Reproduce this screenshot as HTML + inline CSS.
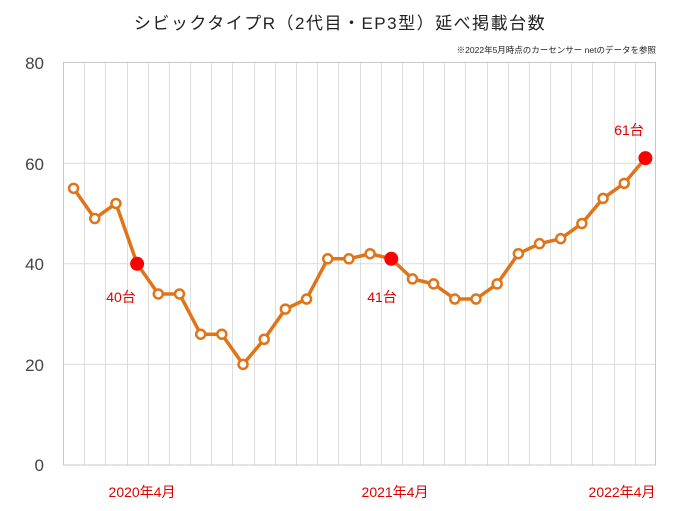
<!DOCTYPE html>
<html><head><meta charset="utf-8"><style>
html,body{margin:0;padding:0;background:#fff;}
svg{display:block;font-family:"Liberation Sans","Noto Sans CJK JP",sans-serif;}
</style></head><body>
<svg width="680" height="511" viewBox="0 0 680 511" xmlns="http://www.w3.org/2000/svg">
<rect width="680" height="511" fill="#fff"/>
<text x="340" y="29" text-anchor="middle" font-size="17" fill="#222" letter-spacing="1.5">シビックタイプR（2代目・EP3型）延べ掲載台数</text>
<text x="656" y="53" text-anchor="end" font-size="8.5" fill="#222">※2022年5月時点のカーセンサー netのデータを参照</text>
<g id="grid" stroke="#dcdcdc" stroke-width="1"></g>
<rect x="63.5" y="62.5" width="592" height="402.5" fill="none" stroke="#c8c8c8"/>
<g font-size="17" fill="#444" text-anchor="end">
<text x="44" y="69">80</text><text x="44" y="170">60</text><text x="44" y="270">40</text><text x="44" y="371">20</text><text x="44" y="471">0</text>
</g>
<g font-size="14" fill="#d00" text-anchor="middle">
<text x="142" y="497">2020年4月</text><text x="395" y="497">2021年4月</text><text x="622" y="497">2022年4月</text>
<text x="121" y="302">40台</text><text x="382" y="302">41台</text><text x="629" y="135">61台</text>
</g>
<polyline id="ln" fill="none" stroke="#e07418" stroke-width="3.5" stroke-linejoin="round"/>
<g id="pts"></g>
<script>
var d=[55,49,52,40,34,34,26,26,20,25,31,33,41,41,42,41,37,36,33,33,36,42,44,45,48,53,56,61];
var x0=63,w=593/28,ns="http://www.w3.org/2000/svg";
var g=document.getElementById('grid');
[60,40,20].forEach(function(v){var l=document.createElementNS(ns,'line');var y=465-v*5.03;l.setAttribute('x1',63);l.setAttribute('x2',656);l.setAttribute('y1',y);l.setAttribute('y2',y);g.appendChild(l);});
for(var i=1;i<28;i++){var l=document.createElementNS(ns,'line');var x=Math.round(x0+i*w)+0.5;l.setAttribute('x1',x);l.setAttribute('x2',x);l.setAttribute('y1',62);l.setAttribute('y2',465);g.appendChild(l);}
var p=[],pts=document.getElementById('pts');
d.forEach(function(v,i){var x=x0+(i+0.5)*w,y=465-v*5.03;p.push(x+','+y);
var c=document.createElementNS(ns,'circle');c.setAttribute('cx',x);c.setAttribute('cy',y);
if(i==3||i==15||i==27){c.setAttribute('r',7);c.setAttribute('fill','#f00');}
else{c.setAttribute('r',4.5);c.setAttribute('fill','#fff');c.setAttribute('stroke','#e07418');c.setAttribute('stroke-width',2.5);}
pts.appendChild(c);});
document.getElementById('ln').setAttribute('points',p.join(' '));
</script>
</svg>
</body></html>
